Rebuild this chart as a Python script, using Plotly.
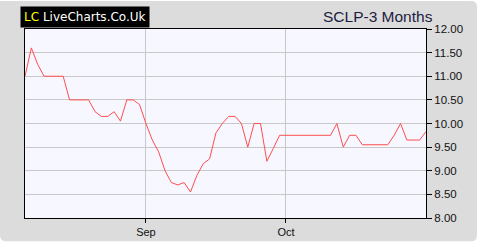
import pandas as pd
import plotly.graph_objects as go

# ---- data ----
dates = pd.bdate_range("2021-08-05", periods=64)
prices = [
    11.0, 11.6, 11.25, 11.0, 11.0, 11.0, 11.0, 10.5, 10.5, 10.5,
    10.5, 10.25, 10.15, 10.15, 10.25, 10.05, 10.5, 10.5, 10.4, 10.0,
    9.65, 9.4, 9.0, 8.75, 8.7, 8.75, 8.55, 8.9, 9.15, 9.25,
    9.8, 10.0, 10.15, 10.15, 10.0, 9.5, 10.0, 10.0, 9.2, 9.47,
    9.75, 9.75, 9.75, 9.75, 9.75, 9.75, 9.75, 9.75, 9.75, 10.0,
    9.5, 9.75, 9.75, 9.55, 9.55, 9.55, 9.55, 9.55, 9.75, 10.0,
    9.65, 9.65, 9.65, 9.83,
]
month_ticks = ["2021-09-01", "2021-10-01"]
month_labels = ["Sep", "Oct"]
y_ticks = [8.0, 8.5, 9.0, 9.5, 10.0, 10.5, 11.0, 11.5, 12.0]
title_text = "SCLP-3 Months"

# ---- layout geometry (pixels) ----
W, H = 480, 250
ML, MR, MT, MB = 25, 54, 29, 26
PW, PH = W - ML - MR, H - MT - MB


def px(x):
    return (x - ML) / PW


def py(y):
    return (H - MB - y) / PH


# rounded gray background path in paper coords
x0, y0, x1, y1, r = 0, 0, 477, 248, 6
path = (
    f"M {px(x0)} {py(y0)} L {px(x1 - r)} {py(y0)} "
    f"Q {px(x1)} {py(y0)} {px(x1)} {py(y0 + r)} "
    f"L {px(x1)} {py(y1 - r)} Q {px(x1)} {py(y1)} {px(x1 - r)} {py(y1)} "
    f"L {px(x0 + r)} {py(y1)} Q {px(x0)} {py(y1)} {px(x0)} {py(y1 - r)} Z"
)

fig = go.Figure()
fig.add_trace(go.Scatter(
    x=dates, y=prices, mode="lines",
    line=dict(color="#ff4d4d", width=1),
    hoverinfo="skip", showlegend=False,
))

fig.update_layout(
    width=W, height=H,
    margin=dict(l=ML, r=MR, t=MT, b=MB, pad=0),
    paper_bgcolor="white",
    plot_bgcolor="rgba(0,0,0,0)",
    font=dict(family="Liberation Sans, Arial, sans-serif", color="#111111"),
    shapes=[
        dict(type="path", path=path, xref="paper", yref="paper",
             fillcolor="#dcdcdc", line=dict(width=0), layer="below"),
        dict(type="rect", xref="paper", yref="paper", x0=0, x1=1, y0=0, y1=1,
             fillcolor="#f7f8ff", line=dict(width=0), layer="below"),
    ],
    annotations=[
        dict(text=title_text, xref="paper", yref="paper",
             x=px(377.5), y=py(16), xanchor="center", yanchor="middle",
             showarrow=False,
             font=dict(size=15.5, color="#1c1c40",
                       family="Liberation Sans, Arial, sans-serif")),
        dict(text="<span style='color:#ffff00'>LC</span> LiveCharts.Co.Uk",
             xref="paper", yref="paper",
             x=px(20), y=py(17), xanchor="left", yanchor="middle",
             showarrow=False, bgcolor="#000000", borderpad=3,
             font=dict(size=12, color="#ffffff",
                       family="DejaVu Sans, Verdana, sans-serif"),
             width=122, height=14, align="left"),
    ],
)

fig.update_xaxes(
    range=[dates[0], dates[-1]],
    rangebreaks=[dict(bounds=["sat", "mon"])],
    tickmode="array", tickvals=month_ticks, ticktext=month_labels,
    ticks="outside", ticklen=4, tickcolor="#000000",
    showgrid=True, gridcolor="#c8c8c8", gridwidth=1,
    showline=True, linecolor="#000000", linewidth=1, mirror=True,
    zeroline=False,
    tickfont=dict(size=11, color="#111111"),
)
fig.update_yaxes(
    range=[8, 12], side="right",
    tickmode="array", tickvals=y_ticks,
    tickformat=".2f",
    ticks="outside", ticklen=5, tickcolor="#000000",
    showgrid=True, gridcolor="#c8c8c8", gridwidth=1,
    showline=True, linecolor="#000000", linewidth=1, mirror=True,
    zeroline=False,
    tickfont=dict(size=11.5, color="#111111"),
)

fig.write_html("out.html")
